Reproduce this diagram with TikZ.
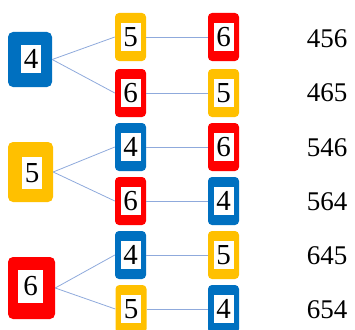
\documentclass[tikz,border=0pt]{standalone}
\usepackage{fontspec}
\setmainfont{Liberation Serif}
\definecolor{cblue}{HTML}{0070C0}
\definecolor{cyel}{HTML}{FFC000}
\definecolor{cred}{HTML}{FF0000}
\definecolor{lnk}{HTML}{8FAADC}
\tikzset{
  sbox/.style={fill=#1, rounded corners=4pt, minimum width=31pt, minimum height=48pt, inner sep=0pt, draw=none},
  wbox/.style={fill=white, minimum width=20pt, minimum height=28pt, inner sep=0pt, font=\fontsize{29}{29}\selectfont},
  bigbox/.style={fill=#1, rounded corners=5pt, inner sep=0pt, draw=none},
  conn/.style={draw=lnk, line width=0.8pt},
  lab/.style={font=\fontsize{27}{27}\selectfont, inner sep=0pt}
}
\begin{document}
\begin{tikzpicture}[x=1pt,y=-1pt]
\useasboundingbox (0,0) rectangle (355,329);
% big boxes
\node[bigbox=cblue, minimum width=44pt, minimum height=55pt] (B4) at (30,59.5) {};
\node[wbox, minimum width=20pt, minimum height=28pt] (B4w) at (31,59) {4};
\node[bigbox=cyel, minimum width=45pt, minimum height=60pt] (B5) at (30.5,172) {};
\node[wbox, minimum width=20pt, minimum height=32pt] (B5w) at (32,173) {5};
\node[bigbox=cred, minimum width=47pt, minimum height=62pt] (B6) at (31.5,288) {};
\node[wbox, minimum width=25pt, minimum height=33pt] (B6w) at (30.5,286.5) {6};
% row 1
\node[sbox=cyel] (a1) at (130.5,37) {}; \node[wbox] (a1w) at (a1) {5};
\node[sbox=cred] (b1) at (223.5,37) {}; \node[wbox] (b1w) at (b1) {6};
\node[lab] (l1) at (327,38.5) {456};
% row 2
\node[sbox=cred] (a2) at (130.5,93) {}; \node[wbox] (a2w) at (a2) {6};
\node[sbox=cyel] (b2) at (223.5,93) {}; \node[wbox] (b2w) at (b2) {5};
\node[lab] (l2) at (327,93) {465};
% row 3
\node[sbox=cblue] (a3) at (130.5,147) {}; \node[wbox] (a3w) at (a3) {4};
\node[sbox=cred] (b3) at (223.5,147) {}; \node[wbox] (b3w) at (b3) {6};
\node[lab] (l3) at (327,147.5) {546};
% row 4
\node[sbox=cred] (a4) at (130.5,201) {}; \node[wbox] (a4w) at (a4) {6};
\node[sbox=cblue] (b4) at (223.5,201) {}; \node[wbox] (b4w) at (b4) {4};
\node[lab] (l4) at (327,201.5) {564};
% row 5
\node[sbox=cblue] (a5) at (130.5,255) {}; \node[wbox] (a5w) at (a5) {4};
\node[sbox=cyel] (b5) at (223.5,255) {}; \node[wbox] (b5w) at (b5) {5};
\node[lab] (l5) at (327,255.5) {645};
% row 6
\node[sbox=cyel] (a6) at (131,309) {}; \node[wbox] (a6w) at (a6) {5};
\node[sbox=cblue] (b6) at (223.5,309) {}; \node[wbox] (b6w) at (b6) {4};
\node[lab] (l6) at (327,309.5) {654};
% connectors
\path[conn] (B4.east) -- (a1.west);
\path[conn] (B4.east) -- (a2.west);
\path[conn] (B5.east) -- (a3.west);
\path[conn] (B5.east) -- (a4.west);
\path[conn] (B6.east) -- (a5.west);
\path[conn] (B6.east) -- (a6.west);
\path[conn] (a1.east) -- (b1.west);
\path[conn] (a2.east) -- (b2.west);
\path[conn] (a3.east) -- (b3.west);
\path[conn] (a4.east) -- (b4.west);
\path[conn] (a5.east) -- (b5.west);
\path[conn] (a6.east) -- (b6.west);
\end{tikzpicture}
\end{document}
